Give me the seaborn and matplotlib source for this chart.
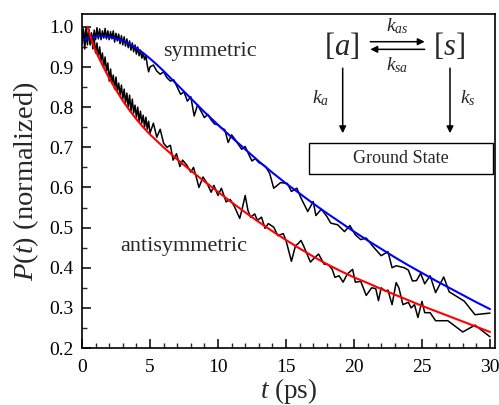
import matplotlib
matplotlib.use("Agg")
import matplotlib.pyplot as plt
from matplotlib.ticker import MultipleLocator
from matplotlib.patches import Rectangle
import seaborn as sns

# ---- measured populations (normalized) ----
sym_t = ([round(0.1 * i, 1) for i in range(51)] +
         [5.25, 5.5, 5.75, 6.0, 6.25, 6.5, 6.75, 7.0, 7.25, 7.5, 7.75, 8.0, 8.25, 8.5,
          8.75, 9.0, 9.25, 9.5, 9.75, 10.0, 10.25, 10.5, 10.75, 11.0, 11.25, 11.5, 11.75,
          12.0, 12.25, 12.5, 12.75, 13.0, 13.25, 13.5, 13.8, 14.1, 14.6, 15.1, 15.4, 15.8,
          16.1, 16.6, 17.0, 17.2, 17.6, 18.0, 18.3, 18.8, 19.3, 19.7, 20.1, 20.5, 20.9,
          21.3, 21.5, 22.0, 22.5, 22.8, 23.1, 23.7, 24.0, 24.3, 24.6, 24.9, 25.2, 25.6,
          26.0, 26.6, 27.0, 28.1, 28.9, 30.0])
sym_p = [0.960, 0.990, 0.945, 0.985, 0.955, 0.995, 0.958, 0.985, 0.962, 0.992,
         0.968, 0.998, 0.970, 0.995, 0.968, 0.990, 0.972, 0.996, 0.970, 0.990,
         0.968, 0.988, 0.970, 0.990, 0.962, 0.984, 0.965, 0.982, 0.958, 0.978,
         0.955, 0.975, 0.952, 0.970, 0.948, 0.965, 0.942, 0.960, 0.938, 0.955,
         0.932, 0.950, 0.928, 0.942, 0.922, 0.935, 0.918, 0.928, 0.905, 0.888,
         0.900,
         0.905, 0.890, 0.882, 0.888, 0.873, 0.865, 0.868, 0.850, 0.832, 0.838,
         0.815, 0.826, 0.778, 0.806, 0.790, 0.774, 0.782, 0.768, 0.758, 0.756,
         0.748, 0.744, 0.712, 0.731, 0.720, 0.707, 0.695, 0.702, 0.683, 0.666,
         0.672, 0.662, 0.658, 0.652, 0.635, 0.598, 0.612, 0.610, 0.590, 0.598,
         0.574, 0.540, 0.565, 0.530, 0.546, 0.528, 0.511, 0.507, 0.490, 0.505,
         0.482, 0.470, 0.474, 0.457, 0.449, 0.430, 0.440, 0.400, 0.405, 0.400,
         0.394, 0.367, 0.368, 0.386, 0.360, 0.380, 0.338, 0.377, 0.340, 0.317,
         0.283, 0.287]

anti_t = ([round(0.1 * i, 1) for i in range(51)] +
          [5.25, 5.5, 5.75, 6.0, 6.25, 6.5, 6.7, 6.95, 7.2, 7.4, 7.7, 8.0, 8.2, 8.4,
           8.6, 8.75, 8.9, 9.2, 9.5, 9.7, 10.0, 10.25, 10.6, 10.9, 11.2, 11.6, 11.8,
           12.0, 12.2, 12.4, 12.7, 12.9, 13.2, 13.46, 13.7, 14.1, 14.4, 14.8, 15.0,
           15.4, 15.7, 15.9, 16.1, 16.3, 16.5, 16.8, 17.1, 17.4, 17.8, 18.1, 18.4,
           18.6, 18.9, 19.2, 19.5, 19.9, 20.1, 20.5, 20.9, 21.3, 21.6, 21.8, 22.0,
           22.3, 22.5, 22.8, 23.1, 23.3, 23.6, 24.0, 24.2, 24.45, 24.7, 25.0, 25.2,
           25.6, 26.0, 26.9, 28.0, 28.9, 30.0])
anti_p = [0.975, 0.995, 0.960, 1.000, 0.965, 0.990, 0.955, 0.980, 0.945, 0.970,
          0.935, 0.960, 0.925, 0.950, 0.915, 0.935, 0.900, 0.925, 0.890, 0.910,
          0.865, 0.895, 0.860, 0.880, 0.845, 0.875, 0.840, 0.860, 0.830, 0.855,
          0.820, 0.845, 0.810, 0.835, 0.800, 0.830, 0.790, 0.820, 0.785, 0.805,
          0.775, 0.800, 0.765, 0.790, 0.760, 0.780, 0.750, 0.775, 0.745, 0.765,
          0.735,
          0.760, 0.725, 0.745, 0.710, 0.700, 0.705, 0.668, 0.684, 0.652, 0.668,
          0.656, 0.638, 0.650, 0.626, 0.600, 0.613, 0.626, 0.610, 0.588, 0.605,
          0.580, 0.598, 0.564, 0.570, 0.553, 0.523, 0.550, 0.580, 0.543, 0.526,
          0.534, 0.518, 0.526, 0.498, 0.510, 0.501, 0.480, 0.485, 0.468, 0.416,
          0.455, 0.460, 0.468, 0.454, 0.438, 0.414, 0.425, 0.434, 0.409, 0.408,
          0.396, 0.376, 0.380, 0.364, 0.384, 0.396, 0.364, 0.366, 0.331, 0.350,
          0.348, 0.318, 0.350, 0.342, 0.344, 0.308, 0.363, 0.350, 0.308, 0.314,
          0.300, 0.308, 0.276, 0.316, 0.288, 0.288, 0.268, 0.268, 0.240, 0.257,
          0.228]

# ---- kinetic-model fits ----
sym_fit_t = [0, 0.5, 1, 1.5, 2, 2.5, 3, 3.5, 4, 4.5, 5, 5.5, 6, 6.5, 7, 8, 9, 10,
             11, 12, 13, 14, 15, 16, 17, 18, 19, 20, 21, 22, 23, 24, 25, 26, 27,
             28, 29, 30]
sym_fit_p = [0.966, 0.973, 0.976, 0.977, 0.975, 0.971, 0.965, 0.957, 0.947, 0.935,
             0.921, 0.906, 0.890, 0.873, 0.856, 0.822, 0.788, 0.756, 0.725, 0.695,
             0.665, 0.637, 0.610, 0.585, 0.560, 0.536, 0.513, 0.490, 0.468, 0.447,
             0.426, 0.406, 0.387, 0.368, 0.350, 0.332, 0.314, 0.297]

anti_fit_t = [0.4, 0.7, 1, 1.5, 2, 2.5, 3, 3.5, 4, 4.5, 5, 6, 7, 8, 9, 10, 11, 12,
              13, 14, 15, 16, 17, 18, 19, 20, 21, 22, 23, 24, 25, 26, 27, 28, 29, 30]
anti_fit_p = [1.000, 0.968, 0.940, 0.905, 0.872, 0.843, 0.816, 0.792, 0.770, 0.750,
              0.732, 0.700, 0.670, 0.642, 0.615, 0.589, 0.563, 0.538, 0.514, 0.491,
              0.469, 0.448, 0.428, 0.409, 0.392, 0.376, 0.362, 0.347, 0.333, 0.319,
              0.305, 0.292, 0.279, 0.266, 0.253, 0.240]

sns.set_theme(style="ticks")
plt.rcParams["font.family"] = ["Liberation Serif", "DejaVu Serif"]
plt.rcParams["mathtext.fontset"] = "custom"
plt.rcParams["mathtext.rm"] = "Liberation Serif"
plt.rcParams["mathtext.it"] = "Liberation Serif:italic"

fig = plt.figure(figsize=(4.99, 4.05), dpi=100)
ax = fig.add_axes([0.1643, 0.1407, 0.8277, 0.8247])

sns.lineplot(x=sym_t, y=sym_p, color="black", lw=1.1, sort=False, estimator=None, ax=ax)
sns.lineplot(x=anti_t, y=anti_p, color="black", lw=1.1, sort=False, estimator=None, ax=ax)
sns.lineplot(x=sym_fit_t, y=sym_fit_p, color="#0000ff", lw=1.5, sort=False, estimator=None, ax=ax)
sns.lineplot(x=anti_fit_t, y=anti_fit_p, color="#ff0000", lw=1.5, sort=False, estimator=None, ax=ax)

ax.set_xlim(0, 30.37)
ax.set_ylim(0.2, 1.032)
ax.xaxis.set_major_locator(MultipleLocator(5))
ax.xaxis.set_minor_locator(MultipleLocator(1))
ax.yaxis.set_minor_locator(MultipleLocator(0.05))
ax.set_yticks([0.2, 0.3, 0.4, 0.5, 0.6, 0.7, 0.8, 0.9, 1.0])
ax.set_yticklabels(["0.2", "0.3", "0.4", "0.5", "0.6", "0.7", "0.8", "0.9", "1.0"])
ax.tick_params(which="major", direction="in", length=6.5, width=1.1, labelsize=14,
               top=False, right=False, colors="black")
ax.tick_params(axis="x", which="major", pad=8)
ax.tick_params(axis="y", which="major", pad=6)
ax.tick_params(which="minor", direction="in", length=3.5, width=1.0, top=False, right=False)
for s in ax.spines.values():
    s.set_linewidth(1.2)
    s.set_color("black")

ax.set_xlabel("$t$ (ps)", fontsize=19.5, labelpad=0)
ax.set_ylabel("$P(t)$ (normalized)", fontsize=20.5, labelpad=6)

# curve labels
ax.text(9.4, 0.938, "symmetric", fontsize=16, ha="center", va="center")
ax.text(7.45, 0.452, "antisymmetric", fontsize=16, ha="center", va="center")

# kinetic scheme
ax.text(19.1, 0.951, "[$a$]", fontsize=22, ha="center", va="center")
ax.text(27.0, 0.951, "[$s$]", fontsize=22, ha="center", va="center")
arrow = dict(arrowstyle="-|>", color="black", lw=1.1, mutation_scale=10,
             shrinkA=0, shrinkB=0)
ax.annotate("", xy=(25.2, 0.963), xytext=(21.2, 0.963), arrowprops=arrow)
ax.annotate("", xy=(21.2, 0.944), xytext=(25.2, 0.944), arrowprops=arrow)
ax.annotate("", xy=(19.17, 0.735), xytext=(19.17, 0.897), arrowprops=arrow)
ax.annotate("", xy=(27.06, 0.735), xytext=(27.06, 0.897), arrowprops=arrow)
ax.text(23.2, 1.001, "$k_{as}$", fontsize=14, ha="center", va="center")
ax.text(23.2, 0.905, "$k_{sa}$", fontsize=14, ha="center", va="center")
ax.text(17.5, 0.823, "$k_a$", fontsize=14, ha="center", va="center")
ax.text(28.4, 0.823, "$k_s$", fontsize=14, ha="center", va="center")
ax.add_patch(Rectangle((16.71, 0.633), 30.2 - 16.71, 0.711 - 0.633, fill=False,
                       edgecolor="black", lw=1.0))
ax.text(23.46, 0.672, "Ground State", fontsize=13, ha="center", va="center")

fig.savefig("out.png", dpi=100)
